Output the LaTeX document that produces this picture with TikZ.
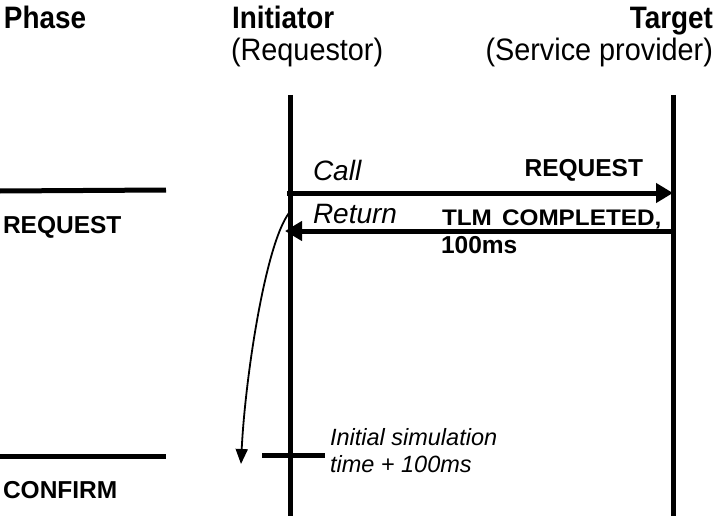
\documentclass[tikz,border=0pt]{standalone}
\usepackage{fontspec}
\setmainfont{Liberation Sans}
\newfontfamily\narrowsans[FakeStretch=0.9]{Liberation Sans}
\newfontfamily\narrowsansreg[FakeStretch=0.93]{Liberation Sans}
\newfontfamily\widesans[FakeStretch=1.08]{Liberation Sans}
\usetikzlibrary{arrows.meta}

\begin{document}
\begin{tikzpicture}[x=1pt,y=-1pt,
  txt/.style={inner sep=0pt,outer sep=0pt},
  head/.style={txt,font=\narrowsans\fontsize{31}{34}\selectfont\bfseries},
  sub/.style={txt,font=\narrowsansreg\fontsize{31}{34}\selectfont},
  lab/.style={txt,font=\fontsize{24.5}{28}\selectfont\bfseries},
  widelab/.style={txt,font=\widesans\fontsize{22.5}{26}\selectfont\bfseries},
  call/.style={txt,font=\fontsize{28}{31}\selectfont\itshape},
  note/.style={txt,font=\fontsize{23.5}{27}\selectfont\itshape},
  lifeline/.style={line width=5pt},
  phaseline/.style={line width=5pt},
  msg/.style={line width=5pt,-{Triangle[length=17pt,width=19pt]}},
  flow/.style={line width=1.8pt,-{Triangle[length=15pt,width=12pt]}}
]
\useasboundingbox (0,0) rectangle (717,516);

% column headers
\node[head,anchor=base west] (phase) at (4,29) {Phase};
\node[head,anchor=base west] (init) at (232,29) {Initiator};
\node[sub,anchor=base west] (initsub) at (231,61) {(Requestor)};
\node[head,anchor=base east] (targ) at (713,29) {Target};
\node[sub,anchor=base east] (targsub) at (713,61) {(Service provider)};

% lifelines
\coordinate (itop) at (290,95);
\coordinate (ibot) at (290,516);
\coordinate (ttop) at (673,95);
\coordinate (tbot) at (673,516);
\draw[lifeline] (itop) -- (ibot);
\draw[lifeline] (ttop) -- (tbot);

% phase separators
\coordinate (p1a) at (0,191);
\coordinate (p1b) at (166,190);
\coordinate (p2a) at (0,456);
\coordinate (p2b) at (166,456);
\draw[phaseline] (p1a) -- (p1b);
\draw[phaseline] (p2a) -- (p2b);
\node[lab,anchor=base west] (preq) at (3,233) {REQUEST};
\node[lab,anchor=base west] (pconf) at (3,498) {CONFIRM};

% forward call and its return
\coordinate (cs) at (287,193);
\coordinate (ce) at (673,193);
\coordinate (rs) at (673,231);
\coordinate (re) at (285,231);
\draw[msg] (cs) -- (ce);
\draw[msg] (rs) -- (re);
\node[call,anchor=base west] (lcall) at (313,180) {Call};
\node[lab,anchor=base east] (lreq) at (643,176) {REQUEST};
\node[call,anchor=base west] (lret) at (313,223) {Return};
\node[widelab,anchor=base west] (ltlm) at (442,225) {TLM\hspace{0.15em} COMPLETED,};
\node[lab,anchor=base west] (lms) at (441,253) {100ms};

% elapsed time marker
\coordinate (tka) at (262,455);
\coordinate (tkb) at (325,455);
\draw[phaseline] (tka) -- (tkb);
\node[note,anchor=base west] (n1) at (330,445) {Initial simulation};
\node[note,anchor=base west] (n2) at (330,472) {time + 100ms};

% annotation time jump
\coordinate (fs) at (289,213);
\coordinate (fe) at (241,464);
\draw[flow] (fs) .. controls (265,245) and (245,380) .. (fe);
\end{tikzpicture}
\end{document}
